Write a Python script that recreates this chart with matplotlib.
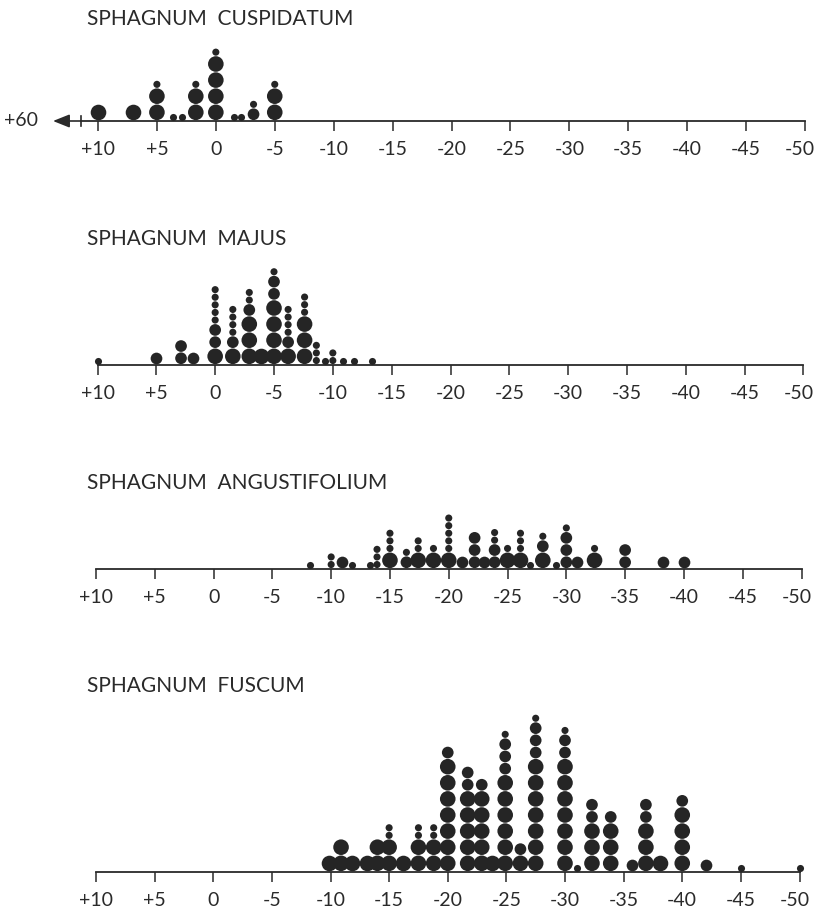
import matplotlib
matplotlib.use("Agg")
import matplotlib.pyplot as plt
from matplotlib.transforms import ScaledTranslation

plt.rcParams['font.family'] = ['Lato', 'DejaVu Sans']

W, H, DPI = 816, 911, 100

# ---------------- data (position on the scale, stack of dot sizes bottom->top) ----------------
# L = large dot, M = medium dot, S = small dot
cusp_x = [10, 7, 5, 3.6, 2.9, 1.7, 0, -1.5, -2.1, -3.2, -5]
cusp_stacks = ["L", "L", "LLS", "S", "S", "LLS", "LLLLS", "S", "S", "MS", "LLS"]

majus_x = [10, 5, 2.9, 1.9, 0, -1.5, -2.9, -3.9, -5, -6.2, -7.6, -8.6, -9.3, -10,
           -10.9, -11.8, -13.3]
majus_stacks = ["S", "M", "MM", "M", "LMMSSSSS", "LMSSSS", "LLLMSS", "L", "LLLLMMS",
                "LMSSSS", "LLLSSS", "SSS", "S", "SS", "S", "S", "S"]

ang_x = [-8.2, -10, -10.9, -11.8, -13.3, -13.9, -15, -16.4, -17.4, -18.7, -20, -21.1,
         -22.2, -23, -23.9, -25, -26.1, -26.9, -28, -29.1, -30, -30.9, -32.4, -35,
         -38.2, -40]
ang_stacks = ["S", "SS", "M", "S", "S", "SSS", "LSSS", "MS", "LSS", "LS", "LSSSSS", "M",
              "MMM", "M", "MMSS", "LS", "LSSS", "S", "LMS", "S", "MMMS", "M", "LS", "MM",
              "M", "M"]

fusc_x = [-9.9, -10.9, -11.8, -13.1, -14, -15, -16.2, -17.5, -18.8, -20, -21.7, -22.9,
          -23.8, -24.9, -26.2, -27.5, -30, -31, -32.3, -33.9, -35.7, -36.9, -38.1, -40,
          -42, -45, -50]
fusc_stacks = ["L", "LL", "L", "L", "LL", "LLSS", "L", "LLSS", "LLSS", "LLLLLLLM",
               "LLLLLMM", "LLLLLM", "L", "LLLLLLMMMS", "LM", "LLLLLLLMMMS", "LLLLLLLMMS",
               "S", "LLLMM", "LLLM", "M", "LLLMM", "L", "LLLLM", "M", "S", "S"]

titles = ["SPHAGNUM  CUSPIDATUM", "SPHAGNUM  MAJUS",
          "SPHAGNUM  ANGUSTIFOLIUM", "SPHAGNUM  FUSCUM"]
tick_values = [10, 5, 0, -5, -10, -15, -20, -25, -30, -35, -40, -45, -50]
tick_labels = ["+10", "+5", "0", "-5", "-10", "-15", "-20", "-25", "-30", "-35",
               "-40", "-45", "-50"]
offscale_label = "+60"

series = [(cusp_x, cusp_stacks), (majus_x, majus_stacks),
          (ang_x, ang_stacks), (fusc_x, fusc_stacks)]

# ---------------- layout (pixels) ----------------
layout = [
    dict(left=98, right=805, axis_y=121, title_y=25),
    dict(left=97.5, right=803.5, axis_y=365, title_y=245),
    dict(left=96, right=801.5, axis_y=569, title_y=489),
    dict(left=96, right=799.5, axis_y=872, title_y=692),
]
TITLE_LEFT = 87
DIAM = {"L": 15.6, "M": 11.7, "S": 7.1}
GAP = 0.5
DOT = "#252525"
INK = "#2a2a2a"

fig = plt.figure(figsize=(W / DPI, H / DPI), dpi=DPI)

for i, ((xs, stacks), lay) in enumerate(zip(series, layout)):
    top = lay["title_y"] - 22
    h = lay["axis_y"] - top
    unit = (lay["right"] - lay["left"]) / 60.0
    ax = fig.add_axes([lay["left"] / W, (H - lay["axis_y"]) / H,
                       (lay["right"] - lay["left"]) / W, h / H])
    ax.set_xlim(10, -50)
    ax.set_ylim(0, h)
    ax.patch.set_alpha(0)

    for x, st in zip(xs, stacks):
        base = 0.9
        ys, ss = [], []
        for c in st:
            d = DIAM[c]
            ys.append(base + d / 2)
            ss.append((d * 0.72) ** 2)
            base += d + GAP
        ax.scatter([x] * len(ys), ys, s=ss, c=DOT, linewidths=0,
                   clip_on=False, zorder=3)

    for sp in ("left", "right", "top"):
        ax.spines[sp].set_visible(False)
    ax.spines["bottom"].set_color(INK)
    ax.spines["bottom"].set_linewidth(1.3)
    ax.set_yticks([])
    ax.set_xticks(tick_values, tick_labels)
    ax.tick_params(axis="x", direction="out", length=7.5, width=1.1,
                   pad=7, labelsize=14, colors=INK)
    # last label sits slightly left of its tick, as in the original
    last = ax.get_xticklabels()[-1]
    last.set_transform(last.get_transform() +
                       ScaledTranslation(-5 / DPI, 0, fig.dpi_scale_trans))

    ax.text(10 + (lay["left"] - TITLE_LEFT) / unit, lay["axis_y"] - lay["title_y"],
            titles[i], ha="left", va="baseline", fontsize=15, color=INK,
            clip_on=False)

    if i == 0:
        bar_x = 10 + (lay["left"] - 81) / unit
        tip_x = 10 + (lay["left"] - 53) / unit
        ax.spines["bottom"].set_bounds(bar_x, -50)
        ax.plot([bar_x, bar_x], [-5, 5], color=INK, lw=1.2, clip_on=False)
        ax.annotate("", xy=(tip_x, 0), xytext=(bar_x, 0),
                    arrowprops=dict(arrowstyle="-|>,head_length=1.0,head_width=0.4",
                                    color=INK, lw=1.2, shrinkA=0, shrinkB=0),
                    annotation_clip=False)
        ax.text(10 + (lay["left"] - 38) / unit, 0, offscale_label, ha="right",
                va="center", fontsize=14, color=INK, clip_on=False)
    else:
        ax.spines["bottom"].set_bounds(10, -50)

fig.savefig("out.png", dpi=DPI)
